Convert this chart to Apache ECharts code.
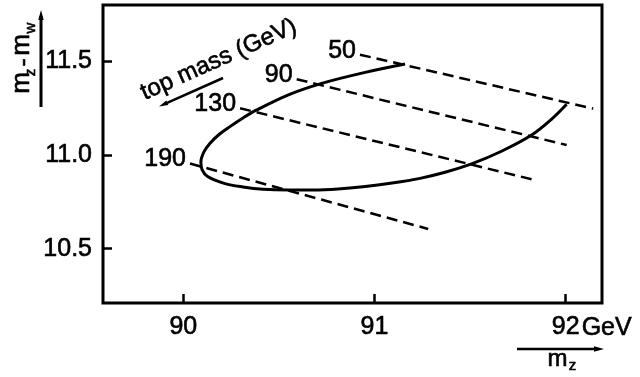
<!DOCTYPE html>
<html>
<head>
<meta charset="utf-8">
<script src="https://cdn.jsdelivr.net/npm/echarts@6/dist/echarts.min.js"></script>
<style>
  html, body { margin: 0; padding: 0; background: #fff; }
  #chart { width: 640px; height: 377px; }
</style>
</head>
<body>
<div id="chart"></div>
<script>
// Axis ticks
const xTicks = [90, 91, 92];          // m_Z (GeV)
const yTicks = [10.5, 11.0, 11.5];    // m_Z - m_W (GeV)

// Solid contour: from its upper end, round the left tip, to its right end
const contourMz   = [91.160, 90.940, 90.724, 90.553, 90.384, 90.312, 90.244, 90.187, 90.140, 90.108, 90.092, 90.098, 90.127,
                     90.218, 90.312, 90.418, 90.548, 90.680, 90.809, 90.940, 91.092, 91.238, 91.374, 91.508, 91.667, 91.822,
                     91.928, 92.005];
const contourDiff = [11.485, 11.438, 11.382, 11.322, 11.240, 11.197, 11.151, 11.109, 11.062, 11.016, 10.962, 10.922, 10.885,
                     10.847, 10.829, 10.817, 10.813, 10.813, 10.818, 10.830, 10.850, 10.875, 10.909, 10.952, 11.021, 11.106,
                     11.192, 11.270];

// Dashed lines of constant top mass (GeV)
const topMass       = [50, 90, 130, 190];
const lineStartMz   = [90.924, 90.593, 90.297, 90.035];
const lineStartDiff = [11.535, 11.404, 11.249, 10.954];
const lineEndMz     = [92.144, 92.005, 91.839, 91.281];
const lineEndDiff   = [11.247, 11.053, 10.866, 10.605];

const FONT = 'Liberation Sans, Arial, sans-serif';
const INK = '#000';
const HEAVY = 0.6;   // slight outline to give the lettering a heavier print weight

const chart = echarts.init(document.getElementById('chart'), null, { renderer: 'canvas' });

const contourSeries = {
  type: 'line',
  data: contourMz.map((x, i) => [x, contourDiff[i]]),
  smooth: 0.35,
  symbol: 'none',
  lineStyle: { color: INK, width: 3 },
  z: 3
};

const massSeries = topMass.map((m, i) => ({
  type: 'line',
  name: String(m),
  data: [
    {
      value: [lineStartMz[i], lineStartDiff[i]],
      label: {
        show: true,
        position: 'left',
        distance: 4,
        offset: [0, -4],
        formatter: String(m),
        color: INK,
        fontFamily: FONT,
        fontSize: 25,
        textBorderColor: INK,
        textBorderWidth: HEAVY
      }
    },
    [lineEndMz[i], lineEndDiff[i]]
  ],
  symbol: 'circle',
  symbolSize: 0,
  itemStyle: { color: 'rgba(0,0,0,0)' },
  lineStyle: { color: INK, width: 2.5, type: [11, 6] },
  z: 2
}));

chart.setOption({
  animation: false,
  backgroundColor: '#fff',
  grid: {
    left: 103, right: 38, top: 5, bottom: 74,
    show: true, borderColor: INK, borderWidth: 3, backgroundColor: 'transparent'
  },
  xAxis: {
    type: 'value',
    min: 89.58, max: 92.19,
    axisLine: { show: false },
    splitLine: { show: false },
    axisTick: { show: true, inside: true, length: 9, customValues: xTicks, lineStyle: { color: INK, width: 2.5 } },
    axisLabel: {
      customValues: xTicks,
      margin: 12,
      color: INK, fontFamily: FONT, fontSize: 25,
      textBorderColor: INK, textBorderWidth: HEAVY,
      formatter: v => String(Math.round(v))
    }
  },
  yAxis: {
    type: 'value',
    min: 10.21, max: 11.8,
    axisLine: { show: false },
    splitLine: { show: false },
    axisTick: { show: true, inside: true, length: 9, customValues: yTicks, lineStyle: { color: INK, width: 2.5 } },
    axisLabel: {
      customValues: yTicks,
      margin: 11,
      color: INK, fontFamily: FONT, fontSize: 25,
      textBorderColor: INK, textBorderWidth: HEAVY,
      formatter: v => v.toFixed(1)
    }
  },
  series: [contourSeries].concat(massSeries)
});

// Annotations: unit next to the last x label, axis titles with arrows, and the top-mass legend
const p92 = chart.convertToPixel({ gridIndex: 0 }, [92, 10.21]);

function txt(text, x, y, size, extra) {
  return Object.assign({
    type: 'text', x: x, y: y, z: 10,
    style: {
      text: text, fill: INK, stroke: INK, lineWidth: HEAVY,
      fontFamily: FONT, fontSize: size, align: 'center', verticalAlign: 'middle'
    }
  }, extra || {});
}
function seg(x1, y1, x2, y2, w) {
  return { type: 'line', z: 10, shape: { x1: x1, y1: y1, x2: x2, y2: y2 }, style: { stroke: INK, lineWidth: w } };
}
function head(points) {
  return { type: 'polygon', z: 10, shape: { points: points }, style: { fill: INK } };
}

chart.setOption({
  graphic: [
    // "GeV" after the 92 label
    {
      type: 'text', x: p92[0] + 16, y: p92[1] + 25, z: 10,
      style: {
        text: 'GeV', fill: INK, stroke: INK, lineWidth: HEAVY,
        fontFamily: FONT, fontSize: 25, align: 'left', verticalAlign: 'middle'
      }
    },
    // x-axis title m_Z with arrow
    seg(517, 349, 598, 349, 2.5),
    head([[604, 349], [594, 346.3], [594, 351.7]]),
    txt('m', 557.5, 359.5, 24),
    txt('z', 572.5, 366, 15),
    // y-axis title m_Z - m_W with arrow
    seg(41, 107, 41, 16, 3),
    head([[41, 10], [38.3, 20], [43.7, 20]]),
    txt('m', 22, 83, 26, { rotation: Math.PI / 2 }),
    txt('z', 31, 72.5, 15, { rotation: Math.PI / 2 }),
    txt('-', 23, 62.5, 24, { rotation: Math.PI / 2 }),
    txt('m', 22, 45, 26, { rotation: Math.PI / 2 }),
    txt('w', 30.5, 28, 15, { rotation: Math.PI / 2 }),
    // top mass legend with arrow pointing toward heavier top
    {
      type: 'text', x: 142, y: 94, rotation: 0.42, z: 10,
      style: {
        text: 'top mass (GeV)', fill: INK, stroke: INK, lineWidth: HEAVY,
        fontFamily: FONT, fontSize: 24, align: 'left', verticalAlign: 'middle'
      }
    },
    seg(223, 78, 166, 103.3, 2.5),
    head([[159, 106.4], [168.3, 105.1], [166.3, 100.5]])
  ]
});
</script>
</body>
</html>
